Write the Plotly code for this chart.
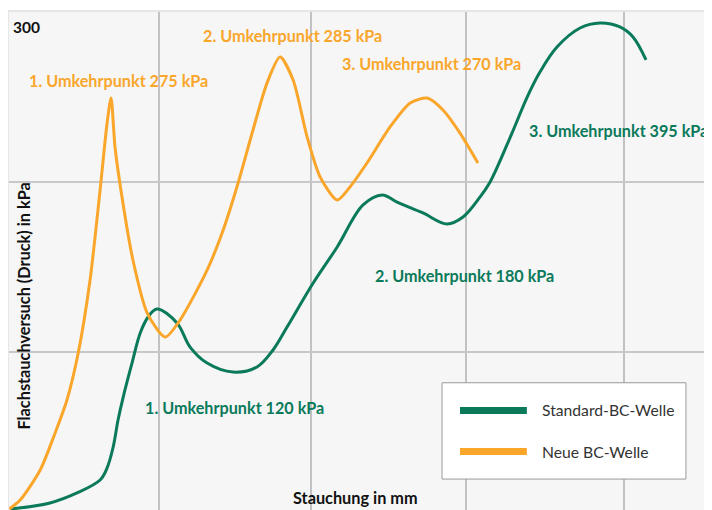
import plotly.graph_objects as go

# Stauchung in mm / Druck in kPa
neu_x = [0.07, 0.43, 1.09, 1.58, 1.97, 2.34, 2.73, 3.06, 3.29, 3.42, 3.55, 3.78, 4.14, 4.61,
         5.20, 5.69, 6.58, 7.11, 7.60, 8.09, 8.55, 8.98, 9.41, 9.87, 10.30, 10.86, 11.28,
         11.84, 12.60, 13.26, 13.82, 14.34, 14.90, 15.49]
neu_y = [7.6, 12.9, 30.6, 52.4, 71.8, 99.4, 142.4, 195.3, 234.7, 249.4, 220.6, 191.2, 154.1, 122.9,
         108.8, 118.8, 148.2, 171.8, 199.4, 230.6, 258.2, 273.5, 260.0, 226.5, 202.9, 189.4, 197.1,
         211.2, 232.4, 246.5, 249.4, 242.4, 228.8, 211.2]

std_x = [0.10, 1.41, 2.30, 3.06, 3.29, 3.49, 3.65, 3.82, 4.11, 4.38, 4.64, 4.93, 5.59, 6.02,
         6.58, 7.43, 8.22, 8.75, 9.21, 10.07, 10.86, 11.71, 12.34, 12.83, 13.68, 14.47, 15.00,
         15.56, 15.89, 16.61, 17.11, 17.53, 18.09, 18.85, 19.51, 20.16, 20.59, 21.02]
std_y = [7.6, 11.2, 17.1, 24.7, 31.8, 44.1, 60.0, 73.5, 93.5, 111.2, 120.6, 125.3, 117.1, 102.9,
         93.5, 88.2, 91.2, 101.2, 114.7, 140.6, 161.8, 186.5, 192.4, 188.2, 181.8, 175.3, 179.4,
         191.2, 200.0, 228.8, 250.0, 264.7, 279.4, 290.6, 293.5, 291.2, 285.3, 271.8]

series_names = ["Standard-BC-Welle", "Neue BC-Welle"]
x_grid = [5.0, 10.0, 15.1, 20.3]
y_grid = [100, 200]
y_top_label = "300"

label_texts_neu = ["1. Umkehrpunkt 275 kPa", "2. Umkehrpunkt 285 kPa", "3. Umkehrpunkt 270 kPa"]
label_pos_neu = [(0.66, 260.0), (6.38, 285.9), (10.95, 270.0)]
label_texts_std = ["1. Umkehrpunkt 120 kPa", "2. Umkehrpunkt 180 kPa", "3. Umkehrpunkt 395 kPa"]
label_pos_std = [(4.47, 67.1), (12.04, 145.3), (17.12, 230.6)]

GREEN = "#0a7a5b"
ORANGE = "#f9a62b"
FONT = "Lato"
LBL = 16.2

fig = go.Figure()
fig.add_trace(go.Scatter(x=std_x, y=std_y, mode="lines", name=series_names[0],
                         line=dict(color=GREEN, width=3, shape="spline", smoothing=1)))
fig.add_trace(go.Scatter(x=neu_x, y=neu_y, mode="lines", name=series_names[1],
                         line=dict(color=ORANGE, width=3, shape="spline", smoothing=0.7)))

ann = []
for t, (x, y) in zip(label_texts_neu, label_pos_neu):
    ann.append(dict(x=x, y=y, text=t, showarrow=False, xanchor="left", yanchor="middle",
                    font=dict(family=FONT, size=LBL, color=ORANGE, weight="bold")))
for t, (x, y) in zip(label_texts_std, label_pos_std):
    ann.append(dict(x=x, y=y, text=t, showarrow=False, xanchor="left", yanchor="middle",
                    font=dict(family=FONT, size=LBL, color=GREEN, weight="bold")))
ann.append(dict(x=0.13, y=291, text=y_top_label, showarrow=False, xanchor="left", yanchor="middle",
                font=dict(family=FONT, size=15.5, color="#111", weight="bold")))
ann.append(dict(xref="paper", yref="paper", x=0.493, y=0.026, text="Stauchung in mm",
                showarrow=False, xanchor="center", yanchor="middle",
                font=dict(family=FONT, size=16.3, color="#111", weight="bold")))
ann.append(dict(xref="paper", yref="paper", x=0.0215, y=0.408, text="Flachstauchversuch (Druck) in kPa",
                showarrow=False, xanchor="center", yanchor="middle", textangle=-90,
                font=dict(family=FONT, size=16.3, color="#111", weight="bold")))
# legend texts
ann.append(dict(xref="paper", yref="paper", x=0.7555, y=0.1994, text=series_names[0],
                showarrow=False, xanchor="left", yanchor="middle",
                font=dict(family=FONT, size=15.7, color="#333")))
ann.append(dict(xref="paper", yref="paper", x=0.7555, y=0.1172, text=series_names[1],
                showarrow=False, xanchor="left", yanchor="middle",
                font=dict(family=FONT, size=15.7, color="#333")))

shapes = [
    dict(type="line", xref="paper", yref="paper", x0=0, x1=1, y0=1, y1=1,
         line=dict(color="#e6e6e6", width=2)),
    dict(type="line", xref="paper", yref="paper", x0=0, x1=0, y0=0, y1=1,
         line=dict(color="#e6e6e6", width=2)),
    dict(type="rect", xref="paper", yref="paper", x0=0.6165, x1=0.963, y0=0.062, y1=0.255,
         fillcolor="white", line=dict(color="#9a9a9a", width=1)),
    dict(type="line", xref="paper", yref="paper", x0=0.642, x1=0.737, y0=0.1994, y1=0.1994,
         line=dict(color=GREEN, width=7)),
    dict(type="line", xref="paper", yref="paper", x0=0.642, x1=0.737, y0=0.1172, y1=0.1172,
         line=dict(color=ORANGE, width=7)),
]

fig.update_layout(
    width=704, height=502,
    margin=dict(l=0, r=0, t=3, b=0),
    paper_bgcolor="white", plot_bgcolor="#f6f6f6",
    showlegend=False,
    annotations=ann, shapes=shapes,
    xaxis=dict(range=[0.03, 23.19], tickvals=x_grid, showticklabels=False, showgrid=True,
               gridcolor="#c2c2c2", gridwidth=1.5, zeroline=False, showline=False),
    yaxis=dict(range=[7.06, 300.6], tickvals=y_grid, showticklabels=False, showgrid=True,
               gridcolor="#c8c8c8", gridwidth=1.5, zeroline=False, showline=False),
)
fig.write_html("out.html")
